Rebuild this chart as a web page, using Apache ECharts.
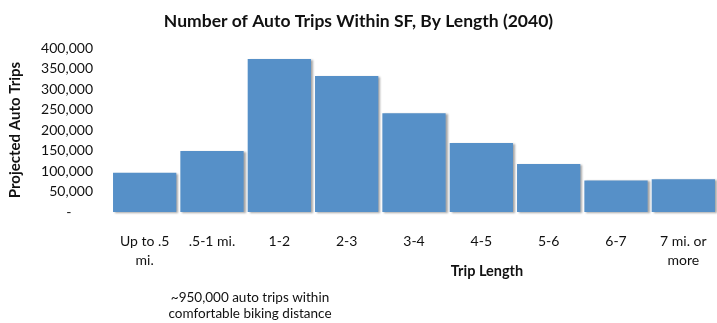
<!DOCTYPE html>
<html>
<head>
<meta charset="utf-8">
<script src="https://cdn.jsdelivr.net/npm/echarts@6/dist/echarts.min.js"></script>
<style>
  html, body { margin: 0; padding: 0; background: #fff; }
  #chart { width: 717px; height: 323px; }
</style>
</head>
<body>
<div id="chart"></div>
<script>
// Trip-length bins and projected auto trips per bin (2040)
const categories = ['Up to .5\nmi.', '.5-1 mi.', '1-2', '2-3', '3-4', '4-5', '5-6', '6-7', '7 mi. or\nmore'];
const trips = [96000, 149000, 373000, 332000, 241000, 168000, 117000, 77000, 80000];
const yTicks = [0, 50000, 100000, 150000, 200000, 250000, 300000, 350000, 400000];

const FONT = 'Lato, "Open Sans", sans-serif';
const chart = echarts.init(document.getElementById('chart'), null, { renderer: 'canvas' });

chart.setOption({
  animation: false,
  title: {
    text: 'Number of Auto Trips Within SF, By Length (2040)',
    left: 'center',
    top: 7,
    textStyle: { fontFamily: FONT, fontSize: 17.5, fontWeight: 'bold', color: '#111' }
  },
  grid: { left: 110, top: 48, width: 608, bottom: 111 },
  xAxis: {
    type: 'category',
    data: categories,
    axisLine: { show: false },
    axisTick: { show: false },
    axisLabel: {
      margin: 20,
      fontFamily: FONT, fontSize: 14, color: '#111', lineHeight: 19, align: 'center'
    },
    name: 'Trip Length',
    nameLocation: 'middle',
    nameGap: 52,
    nameMoveOverlap: false,
    nameTextStyle: { fontFamily: FONT, fontSize: 14.5, fontWeight: 'bold', color: '#111', padding: [0, 0, 0, 146] }
  },
  yAxis: {
    type: 'value',
    min: yTicks[0],
    max: yTicks[yTicks.length - 1],
    interval: 50000,
    splitLine: { show: false },
    axisLine: { show: false },
    axisTick: { show: false },
    axisLabel: {
      margin: 18,
      fontFamily: FONT, fontSize: 14, color: '#111',
      formatter: v => v === 0 ? '-      ' : v.toLocaleString('en-US')
    },
    name: 'Projected Auto Trips',
    nameLocation: 'middle',
    nameRotate: 90,
    nameGap: 88,
    nameMoveOverlap: false,
    nameTextStyle: { fontFamily: FONT, fontSize: 15, fontWeight: 'bold', color: '#111' }
  },
  series: [{
    type: 'bar',
    data: trips,
    barCategoryGap: '6%',
    itemStyle: {
      color: '#5690c8',
      shadowColor: 'rgba(0,0,0,0.35)',
      shadowBlur: 2,
      shadowOffsetX: 2,
      shadowOffsetY: 1
    }
  }],
  graphic: [{
    type: 'text',
    x: 250,
    y: 290,
    style: {
      text: '~950,000 auto trips within\ncomfortable biking distance',
      fontFamily: FONT, fontSize: 13.5, lineHeight: 16, fill: '#111',
      textAlign: 'center', align: 'center'
    }
  }]
});
</script>
</body>
</html>
